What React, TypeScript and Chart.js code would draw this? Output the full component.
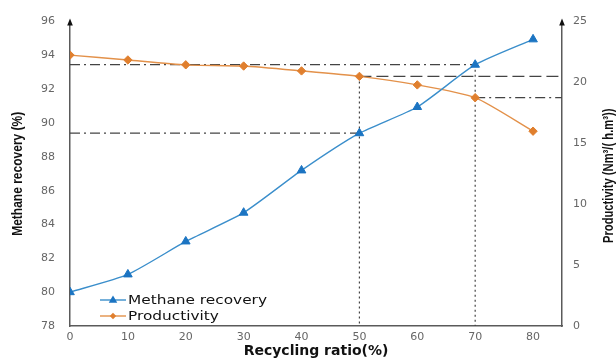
import React, { useEffect, useRef } from "react";
import { Chart, registerables } from "chart.js";

Chart.register(...registerables);

const ratios = [0, 10, 20, 30, 40, 50, 60, 70, 80];
const recovery = [80, 81.05, 83, 84.7, 87.2, 89.4, 90.95, 93.45, 94.95];
const productivity = [22.25, 21.85, 21.45, 21.35, 20.95, 20.5, 19.8, 18.75, 16.0];
const xTicks = [0, 10, 20, 30, 40, 50, 60, 70, 80];
const leftTicks = [78, 80, 82, 84, 86, 88, 90, 92, 94, 96];
const rightTicks = [0, 5, 10, 15, 20, 25];
const seriesNames = ["Methane recovery", "Productivity"];
const xTitle = "Recycling ratio(%)";
const leftTitle = "Methane recovery (%)";
const rightTitle = "Productivity (Nm³/( h.m³))";

const BLUE_LINE = "#3a8ecb";
const BLUE_PT = "#1b74c2";
const ORANGE_LINE = "#e3914a";
const ORANGE_PT = "#e07f2e";
const REF = "#444444";
const AXIS = "#5a5a5a";

function drawMarker(ctx: CanvasRenderingContext2D, style: string, r: number, x: number, y: number) {
  ctx.beginPath();
  if (style === "triangle") {
    ctx.moveTo(x, y - r);
    ctx.lineTo(x + r * 0.95, y + r * 0.6);
    ctx.lineTo(x - r * 0.95, y + r * 0.6);
  } else {
    ctx.moveTo(x, y - r);
    ctx.lineTo(x + r, y);
    ctx.lineTo(x, y + r);
    ctx.lineTo(x - r, y);
  }
  ctx.closePath();
  ctx.fill();
}

export default function App() {
  const ref = useRef<HTMLCanvasElement | null>(null);

  useEffect(() => {
    if (!ref.current) return;
    const i50 = ratios.indexOf(50);
    const i70 = ratios.indexOf(70);
    const xMax = 85;
    const dashDot = [10, 4, 2, 4];
    const refStyle = (dash: number[]) => ({
      borderColor: REF,
      borderWidth: 1.2,
      borderDash: dash,
      pointRadius: 0,
      fill: false,
      tension: 0,
      order: 2,
    });

    const overlay = {
      id: "overlay",
      afterDraw(chart: any) {
        const { ctx, chartArea: a } = chart;
        ctx.save();
        // axis arrows
        ctx.fillStyle = "#111";
        for (const x of [a.left, a.right]) {
          ctx.beginPath();
          ctx.moveTo(x, a.top - 3);
          ctx.lineTo(x - 2.8, a.top + 4);
          ctx.lineTo(x + 2.8, a.top + 4);
          ctx.closePath();
          ctx.fill();
        }
        // titles
        ctx.fillStyle = "#111";
        ctx.textAlign = "center";
        ctx.textBaseline = "middle";
        ctx.font = "bold 14px 'DejaVu Sans', sans-serif";
        ctx.fillText(xTitle, 316, 351);
        ctx.font = "bold 15px 'Liberation Sans', Arial, sans-serif";
        ctx.save();
        ctx.translate(18, (a.top + a.bottom) / 2);
        ctx.rotate(-Math.PI / 2);
        ctx.scale(0.8, 1);
        ctx.fillText(leftTitle, 0, 0);
        ctx.restore();
        ctx.save();
        ctx.font = "bold 14px 'Liberation Sans', Arial, sans-serif";
        ctx.translate(chart.width - 7, (a.top + a.bottom) / 2 + 2);
        ctx.rotate(-Math.PI / 2);
        ctx.scale(0.8, 1);
        ctx.fillText(rightTitle, 0, 0);
        ctx.restore();
        // legend
        const lx = a.left + 30;
        const rows = [
          { y: 300, color: BLUE_LINE, pt: BLUE_PT, style: "triangle", r: 4.5 },
          { y: 316, color: ORANGE_LINE, pt: ORANGE_PT, style: "rectRot", r: 3.2 },
        ];
        ctx.font = "13px 'DejaVu Sans', sans-serif";
        ctx.textAlign = "left";
        rows.forEach((row, k) => {
          ctx.strokeStyle = row.color;
          ctx.lineWidth = 1.4;
          ctx.beginPath();
          ctx.moveTo(lx, row.y);
          ctx.lineTo(lx + 26, row.y);
          ctx.stroke();
          ctx.fillStyle = row.pt;
          drawMarker(ctx, row.style, row.r, lx + 13, row.y);
          ctx.fillStyle = "#111";
          ctx.save();
          ctx.translate(lx + 28, row.y + 1);
          ctx.scale(1.18, 1);
          ctx.fillText(seriesNames[k], 0, 0);
          ctx.restore();
        });
        ctx.restore();
      },
    };

    const tickFont = { size: 11, family: "'DejaVu Sans', sans-serif" };

    const chart = new Chart(ref.current, {
      type: "line",
      data: {
        datasets: [
          {
            label: seriesNames[0],
            data: ratios.map((x, i) => ({ x, y: recovery[i] })),
            yAxisID: "yL",
            borderColor: BLUE_LINE,
            backgroundColor: BLUE_PT,
            borderWidth: 1.4,
            pointStyle: "triangle",
            pointRadius: 5,
            pointBackgroundColor: BLUE_PT,
            pointBorderColor: BLUE_PT,
            pointBorderWidth: 1,
            tension: 0.2,
            order: 0,
          },
          {
            label: seriesNames[1],
            data: ratios.map((x, i) => ({ x, y: productivity[i] })),
            yAxisID: "yR",
            borderColor: ORANGE_LINE,
            backgroundColor: ORANGE_PT,
            borderWidth: 1.4,
            pointStyle: "rectRot",
            pointRadius: 4.2,
            pointBackgroundColor: ORANGE_PT,
            pointBorderColor: ORANGE_PT,
            pointBorderWidth: 1,
            tension: 0.2,
            order: 1,
          },
          {
            label: "ref1",
            data: [{ x: 0, y: recovery[i70] }, { x: ratios[i70], y: recovery[i70] }],
            yAxisID: "yL",
            ...refStyle(dashDot),
          },
          {
            label: "ref2",
            data: [{ x: 0, y: recovery[i50] }, { x: ratios[i50], y: recovery[i50] }],
            yAxisID: "yL",
            ...refStyle(dashDot),
          },
          {
            label: "ref3",
            data: [{ x: ratios[i50], y: productivity[i50] }, { x: xMax, y: productivity[i50] }],
            yAxisID: "yR",
            ...refStyle([12, 5]),
          },
          {
            label: "ref4",
            data: [{ x: ratios[i70], y: productivity[i70] }, { x: xMax, y: productivity[i70] }],
            yAxisID: "yR",
            ...refStyle(dashDot),
          },
          {
            label: "ref5",
            data: [{ x: ratios[i50], y: productivity[i50] }, { x: ratios[i50], y: 0 }],
            yAxisID: "yR",
            ...refStyle([2, 3]),
          },
          {
            label: "ref6",
            data: [{ x: ratios[i70], y: recovery[i70] }, { x: ratios[i70], y: 78 }],
            yAxisID: "yL",
            ...refStyle([2, 3]),
          },
        ],
      },
      options: {
        animation: false,
        responsive: false,
        layout: { padding: { top: 18, left: 0, right: 0, bottom: 0 } },
        plugins: { legend: { display: false }, tooltip: { enabled: false } },
        scales: {
          x: {
            type: "linear",
            min: 0,
            max: xMax,
            afterBuildTicks: (s: any) => {
              s.ticks = xTicks.map((v) => ({ value: v }));
            },
            afterFit: (s: any) => {
              s.height = 33;
            },
            grid: { display: false, drawTicks: false },
            border: { display: true, color: AXIS, width: 1.5 },
            ticks: { color: "#666", font: tickFont, padding: 5, maxRotation: 0 },
          },
          yL: {
            type: "linear",
            position: "left",
            min: 78,
            max: 96,
            afterBuildTicks: (s: any) => {
              s.ticks = leftTicks.map((v) => ({ value: v }));
            },
            afterFit: (s: any) => {
              s.width = 70;
            },
            grid: { display: false, drawTicks: false },
            border: { display: true, color: AXIS, width: 1.5 },
            ticks: { color: "#666", font: tickFont, padding: 15 },
          },
          yR: {
            type: "linear",
            position: "right",
            min: 0,
            max: 25,
            afterBuildTicks: (s: any) => {
              s.ticks = rightTicks.map((v) => ({ value: v }));
            },
            afterFit: (s: any) => {
              s.width = 54;
            },
            grid: { display: false, drawTicks: false },
            border: { display: true, color: AXIS, width: 1.5 },
            ticks: { color: "#666", font: tickFont, padding: 11 },
          },
        },
      },
      plugins: [overlay],
    } as any);

    return () => chart.destroy();
  }, []);

  return (
    <div style={{ position: "fixed", left: 0, top: 0, width: 616, height: 359, background: "#fff" }}>
      <canvas ref={ref} width={616} height={359} style={{ display: "block" }} />
    </div>
  );
}
